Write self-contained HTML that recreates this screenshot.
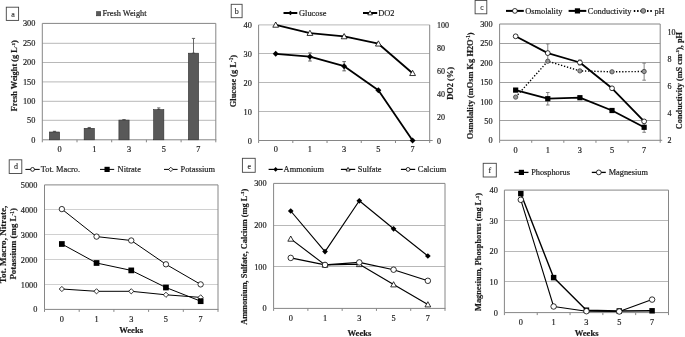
<!DOCTYPE html>
<html><head><meta charset="utf-8"><style>
html,body{margin:0;padding:0;background:#fff;width:685px;height:337px;overflow:hidden}
svg{display:block;will-change:transform}
text{font-family:"Liberation Serif", serif;fill:#1a1a1a;stroke:#1a1a1a;stroke-width:0.18px}
</style></head><body>
<svg width="685" height="337" viewBox="0 0 685 337">
<rect width="685" height="337" fill="#fff"/>
<line x1="42.3" y1="120.3" x2="215.8" y2="120.3" stroke="#b8b8b8" stroke-width="1" />
<line x1="42.3" y1="101.3" x2="215.8" y2="101.3" stroke="#b8b8b8" stroke-width="1" />
<line x1="42.3" y1="81.9" x2="215.8" y2="81.9" stroke="#b8b8b8" stroke-width="1" />
<line x1="42.3" y1="62.5" x2="215.8" y2="62.5" stroke="#b8b8b8" stroke-width="1" />
<line x1="42.3" y1="43.3" x2="215.8" y2="43.3" stroke="#b8b8b8" stroke-width="1" />
<line x1="42.3" y1="23.4" x2="215.8" y2="23.4" stroke="#868686" stroke-width="1" />
<line x1="215.8" y1="23.4" x2="215.8" y2="139.8" stroke="#868686" stroke-width="1" />
<line x1="42.3" y1="23.4" x2="42.3" y2="139.8" stroke="#868686" stroke-width="1" />
<line x1="42.3" y1="139.8" x2="216.3" y2="139.8" stroke="#868686" stroke-width="1" />
<line x1="42.3" y1="139.8" x2="42.3" y2="142.3" stroke="#868686" stroke-width="1" />
<line x1="77" y1="139.8" x2="77" y2="142.3" stroke="#868686" stroke-width="1" />
<line x1="111.7" y1="139.8" x2="111.7" y2="142.3" stroke="#868686" stroke-width="1" />
<line x1="146.4" y1="139.8" x2="146.4" y2="142.3" stroke="#868686" stroke-width="1" />
<line x1="181.1" y1="139.8" x2="181.1" y2="142.3" stroke="#868686" stroke-width="1" />
<line x1="215.8" y1="139.8" x2="215.8" y2="142.3" stroke="#868686" stroke-width="1" />
<line x1="54.5" y1="131.3" x2="54.5" y2="132" stroke="#555" stroke-width="0.9" />
<line x1="52.9" y1="131.3" x2="56.1" y2="131.3" stroke="#555" stroke-width="0.9" />
<line x1="52.9" y1="132" x2="56.1" y2="132" stroke="#555" stroke-width="0.9" />
<rect x="49.4" y="132" width="10.2" height="7.8" fill="#595959" stroke="#2e2e2e" stroke-width="0.6"/>
<line x1="89.25" y1="127.46" x2="89.25" y2="128.32" stroke="#555" stroke-width="0.9" />
<line x1="87.65" y1="127.46" x2="90.85" y2="127.46" stroke="#555" stroke-width="0.9" />
<line x1="87.65" y1="128.32" x2="90.85" y2="128.32" stroke="#555" stroke-width="0.9" />
<rect x="84.15" y="128.32" width="10.2" height="11.48" fill="#595959" stroke="#2e2e2e" stroke-width="0.6"/>
<line x1="124" y1="119.62" x2="124" y2="120.09" stroke="#555" stroke-width="0.9" />
<line x1="122.4" y1="119.62" x2="125.6" y2="119.62" stroke="#555" stroke-width="0.9" />
<line x1="122.4" y1="120.09" x2="125.6" y2="120.09" stroke="#555" stroke-width="0.9" />
<rect x="118.9" y="120.09" width="10.2" height="19.71" fill="#595959" stroke="#2e2e2e" stroke-width="0.6"/>
<line x1="158.75" y1="107.91" x2="158.75" y2="109.69" stroke="#555" stroke-width="0.9" />
<line x1="157.15" y1="107.91" x2="160.35" y2="107.91" stroke="#555" stroke-width="0.9" />
<line x1="157.15" y1="109.69" x2="160.35" y2="109.69" stroke="#555" stroke-width="0.9" />
<rect x="153.65" y="109.69" width="10.2" height="30.11" fill="#595959" stroke="#2e2e2e" stroke-width="0.6"/>
<line x1="193.5" y1="38.42" x2="193.5" y2="53.2" stroke="#555" stroke-width="0.9" />
<line x1="191.9" y1="38.42" x2="195.1" y2="38.42" stroke="#555" stroke-width="0.9" />
<line x1="191.9" y1="53.2" x2="195.1" y2="53.2" stroke="#555" stroke-width="0.9" />
<rect x="188.4" y="53.2" width="10.2" height="86.6" fill="#595959" stroke="#2e2e2e" stroke-width="0.6"/>
<text x="35.4" y="142.8" font-size="8.3" text-anchor="end" font-weight="normal" >0</text>
<text x="35.4" y="123.4" font-size="8.3" text-anchor="end" font-weight="normal" >50</text>
<text x="35.4" y="104" font-size="8.3" text-anchor="end" font-weight="normal" >100</text>
<text x="35.4" y="84.6" font-size="8.3" text-anchor="end" font-weight="normal" >150</text>
<text x="35.4" y="65.2" font-size="8.3" text-anchor="end" font-weight="normal" >200</text>
<text x="35.4" y="45.8" font-size="8.3" text-anchor="end" font-weight="normal" >250</text>
<text x="35.4" y="26.4" font-size="8.3" text-anchor="end" font-weight="normal" >300</text>
<text x="59.65" y="152.4" font-size="8.3" text-anchor="middle" font-weight="normal" >0</text>
<text x="94.35" y="152.4" font-size="8.3" text-anchor="middle" font-weight="normal" >1</text>
<text x="129.05" y="152.4" font-size="8.3" text-anchor="middle" font-weight="normal" >3</text>
<text x="163.75" y="152.4" font-size="8.3" text-anchor="middle" font-weight="normal" >5</text>
<text x="198.45" y="152.4" font-size="8.3" text-anchor="middle" font-weight="normal" >7</text>
<rect x="6.3" y="7.2" width="12.3" height="13.2" fill="#fff" stroke="#444" stroke-width="0.9"/>
<text x="13.15" y="16.6" font-size="8" text-anchor="middle" font-weight="normal" style="stroke-width:0.1px">a</text>
<rect x="96.6" y="11.7" width="4.1" height="4.1" fill="#595959" stroke="#2e2e2e" stroke-width="0.6"/>
<text x="102.4" y="16.1" font-size="8.3" text-anchor="start" font-weight="normal" >Fresh Weight</text>
<text transform="translate(17.4,75.8) rotate(-90)" text-anchor="middle" font-size="8.3" font-weight="bold">Fresh Weight (g L<tspan dy="-2.8" font-size="4.98">-1</tspan><tspan dy="2.8">)</tspan></text>
<line x1="258.6" y1="111.5" x2="429.7" y2="111.5" stroke="#b8b8b8" stroke-width="1" />
<line x1="258.6" y1="82.5" x2="429.7" y2="82.5" stroke="#b8b8b8" stroke-width="1" />
<line x1="258.6" y1="53.5" x2="429.7" y2="53.5" stroke="#b8b8b8" stroke-width="1" />
<line x1="258.6" y1="24.9" x2="429.7" y2="24.9" stroke="#b8b8b8" stroke-width="1" />
<line x1="429.7" y1="24.9" x2="429.7" y2="140.5" stroke="#868686" stroke-width="1" />
<line x1="258.6" y1="24.9" x2="258.6" y2="140.5" stroke="#868686" stroke-width="1" />
<line x1="258.6" y1="140.5" x2="430.2" y2="140.5" stroke="#868686" stroke-width="1" />
<line x1="258.6" y1="140.5" x2="258.6" y2="143" stroke="#868686" stroke-width="1" />
<line x1="292.82" y1="140.5" x2="292.82" y2="143" stroke="#868686" stroke-width="1" />
<line x1="327.04" y1="140.5" x2="327.04" y2="143" stroke="#868686" stroke-width="1" />
<line x1="361.26" y1="140.5" x2="361.26" y2="143" stroke="#868686" stroke-width="1" />
<line x1="395.48" y1="140.5" x2="395.48" y2="143" stroke="#868686" stroke-width="1" />
<line x1="429.7" y1="140.5" x2="429.7" y2="143" stroke="#868686" stroke-width="1" />
<line x1="429.7" y1="140.5" x2="432.7" y2="140.5" stroke="#868686" stroke-width="1" />
<line x1="309.93" y1="52.93" x2="309.93" y2="61.03" stroke="#555" stroke-width="0.9" />
<line x1="308.13" y1="52.93" x2="311.73" y2="52.93" stroke="#555" stroke-width="0.9" />
<line x1="308.13" y1="61.03" x2="311.73" y2="61.03" stroke="#555" stroke-width="0.9" />
<line x1="344.15" y1="61.6" x2="344.15" y2="70.85" stroke="#555" stroke-width="0.9" />
<line x1="342.35" y1="61.6" x2="345.95" y2="61.6" stroke="#555" stroke-width="0.9" />
<line x1="342.35" y1="70.85" x2="345.95" y2="70.85" stroke="#555" stroke-width="0.9" />
<polyline points="275.71,24.9 309.93,33.11 344.15,36.46 378.37,43.74 412.59,73.22" fill="none" stroke="#000" stroke-width="1.8" stroke-linejoin="round"/>
<path d="M275.71 22L278.61 27.22L272.81 27.22Z" fill="#fff" stroke="#000" stroke-width="0.8"/>
<path d="M309.93 30.21L312.83 35.43L307.03 35.43Z" fill="#fff" stroke="#000" stroke-width="0.8"/>
<path d="M344.15 33.56L347.05 38.78L341.25 38.78Z" fill="#fff" stroke="#000" stroke-width="0.8"/>
<path d="M378.37 40.84L381.27 46.06L375.47 46.06Z" fill="#fff" stroke="#000" stroke-width="0.8"/>
<path d="M412.59 70.32L415.49 75.54L409.69 75.54Z" fill="#fff" stroke="#000" stroke-width="0.8"/>
<polyline points="275.71,53.8 309.93,56.69 344.15,66.23 378.37,90.21 412.59,140.5" fill="none" stroke="#000" stroke-width="1.8" stroke-linejoin="round"/>
<path d="M275.71 50.83L278.68 53.8L275.71 56.77L272.74 53.8Z" fill="#000"/>
<path d="M309.93 53.72L312.9 56.69L309.93 59.66L306.96 56.69Z" fill="#000"/>
<path d="M344.15 63.26L347.12 66.23L344.15 69.2L341.18 66.23Z" fill="#000"/>
<path d="M378.37 87.24L381.34 90.21L378.37 93.18L375.4 90.21Z" fill="#000"/>
<path d="M412.59 137.53L415.56 140.5L412.59 143.47L409.62 140.5Z" fill="#000"/>
<text x="251.8" y="143.5" font-size="8.3" text-anchor="end" font-weight="normal" >0</text>
<text x="251.8" y="114.6" font-size="8.3" text-anchor="end" font-weight="normal" >10</text>
<text x="251.8" y="85.7" font-size="8.3" text-anchor="end" font-weight="normal" >20</text>
<text x="251.8" y="56.8" font-size="8.3" text-anchor="end" font-weight="normal" >30</text>
<text x="251.8" y="27.9" font-size="8.3" text-anchor="end" font-weight="normal" >40</text>
<text x="437" y="143.5" font-size="8" text-anchor="start" font-weight="normal" >0</text>
<text x="437" y="120.38" font-size="8" text-anchor="start" font-weight="normal" >20</text>
<text x="437" y="97.26" font-size="8" text-anchor="start" font-weight="normal" >40</text>
<text x="437" y="74.14" font-size="8" text-anchor="start" font-weight="normal" >60</text>
<text x="437" y="51.02" font-size="8" text-anchor="start" font-weight="normal" >80</text>
<text x="437" y="27.9" font-size="8" text-anchor="start" font-weight="normal" >100</text>
<text x="275.71" y="152.2" font-size="8.3" text-anchor="middle" font-weight="normal" >0</text>
<text x="309.93" y="152.2" font-size="8.3" text-anchor="middle" font-weight="normal" >1</text>
<text x="344.15" y="152.2" font-size="8.3" text-anchor="middle" font-weight="normal" >3</text>
<text x="378.37" y="152.2" font-size="8.3" text-anchor="middle" font-weight="normal" >5</text>
<text x="412.59" y="152.2" font-size="8.3" text-anchor="middle" font-weight="normal" >7</text>
<rect x="231.2" y="4.3" width="10.9" height="13.4" fill="#fff" stroke="#444" stroke-width="0.9"/>
<text x="236.65" y="14.4" font-size="8" text-anchor="middle" font-weight="normal" style="stroke-width:0.1px">b</text>
<line x1="283.5" y1="13" x2="297.3" y2="13" stroke="#000" stroke-width="2"/>
<path d="M290.4 10.71L292.69 13L290.4 15.29L288.1 13Z" fill="#000"/>
<text x="299" y="15.9" font-size="8.4" text-anchor="start" font-weight="normal" >Glucose</text>
<line x1="363" y1="13" x2="377.2" y2="13" stroke="#000" stroke-width="2"/>
<path d="M370.1 10.68L372.42 14.86L367.78 14.86Z" fill="#fff" stroke="#000" stroke-width="0.8"/>
<text x="378.2" y="15.9" font-size="8.4" text-anchor="start" font-weight="normal" >DO2</text>
<text transform="translate(236.2,81.1) rotate(-90)" text-anchor="middle" font-size="8.4" font-weight="bold">Glucose (g L<tspan dy="-2.8" font-size="5.04">-1</tspan><tspan dy="2.8">)</tspan></text>
<text transform="translate(452.8,83.4) rotate(-90)" text-anchor="middle" font-size="8.4" font-weight="bold">DO2 (%)</text>
<line x1="499.6" y1="120.5" x2="660.2" y2="120.5" stroke="#a0a0a0" stroke-width="1" />
<line x1="499.6" y1="101.5" x2="660.2" y2="101.5" stroke="#a0a0a0" stroke-width="1" />
<line x1="499.6" y1="82.5" x2="660.2" y2="82.5" stroke="#a0a0a0" stroke-width="1" />
<line x1="499.6" y1="62.5" x2="660.2" y2="62.5" stroke="#a0a0a0" stroke-width="1" />
<line x1="499.6" y1="43.5" x2="660.2" y2="43.5" stroke="#a0a0a0" stroke-width="1" />
<line x1="499.6" y1="24" x2="660.2" y2="24" stroke="#868686" stroke-width="1" />
<line x1="660.2" y1="24" x2="660.2" y2="140.3" stroke="#868686" stroke-width="1" />
<line x1="499.6" y1="24" x2="499.6" y2="140.3" stroke="#868686" stroke-width="1" />
<line x1="499.6" y1="140.3" x2="660.7" y2="140.3" stroke="#868686" stroke-width="1" />
<line x1="499.6" y1="140.3" x2="499.6" y2="142.8" stroke="#868686" stroke-width="1" />
<line x1="531.72" y1="140.3" x2="531.72" y2="142.8" stroke="#868686" stroke-width="1" />
<line x1="563.84" y1="140.3" x2="563.84" y2="142.8" stroke="#868686" stroke-width="1" />
<line x1="595.96" y1="140.3" x2="595.96" y2="142.8" stroke="#868686" stroke-width="1" />
<line x1="628.08" y1="140.3" x2="628.08" y2="142.8" stroke="#868686" stroke-width="1" />
<line x1="660.2" y1="140.3" x2="660.2" y2="142.8" stroke="#868686" stroke-width="1" />
<line x1="660.2" y1="140.3" x2="662.2" y2="140.3" stroke="#868686" stroke-width="1" />
<line x1="547.78" y1="43.9" x2="547.78" y2="62.5" stroke="#777" stroke-width="0.9" />
<line x1="545.98" y1="43.9" x2="549.58" y2="43.9" stroke="#777" stroke-width="0.9" />
<line x1="545.98" y1="62.5" x2="549.58" y2="62.5" stroke="#777" stroke-width="0.9" />
<line x1="547.78" y1="92.5" x2="547.78" y2="105" stroke="#777" stroke-width="0.9" />
<line x1="545.98" y1="92.5" x2="549.58" y2="92.5" stroke="#777" stroke-width="0.9" />
<line x1="545.98" y1="105" x2="549.58" y2="105" stroke="#777" stroke-width="0.9" />
<line x1="579.9" y1="60" x2="579.9" y2="65" stroke="#777" stroke-width="0.9" />
<line x1="578.1" y1="60" x2="581.7" y2="60" stroke="#777" stroke-width="0.9" />
<line x1="578.1" y1="65" x2="581.7" y2="65" stroke="#777" stroke-width="0.9" />
<line x1="644.14" y1="63.1" x2="644.14" y2="80.2" stroke="#777" stroke-width="0.9" />
<line x1="642.34" y1="63.1" x2="645.94" y2="63.1" stroke="#777" stroke-width="0.9" />
<line x1="642.34" y1="80.2" x2="645.94" y2="80.2" stroke="#777" stroke-width="0.9" />
<line x1="644.14" y1="122.5" x2="644.14" y2="132.3" stroke="#777" stroke-width="0.9" />
<line x1="642.34" y1="122.5" x2="645.94" y2="122.5" stroke="#777" stroke-width="0.9" />
<line x1="642.34" y1="132.3" x2="645.94" y2="132.3" stroke="#777" stroke-width="0.9" />
<polyline points="515.66,97.1 547.78,61.2 579.9,70.9 612.02,71.8 644.14,71.5" fill="none" stroke="#000" stroke-width="1.4" stroke-linejoin="round" stroke-dasharray="1.3,1.8"/>
<circle cx="515.66" cy="97.1" r="2.16" fill="#9a9a9a" stroke="#3a3a3a" stroke-width="0.8"/>
<circle cx="547.78" cy="61.2" r="2.16" fill="#9a9a9a" stroke="#3a3a3a" stroke-width="0.8"/>
<circle cx="579.9" cy="70.9" r="2.16" fill="#9a9a9a" stroke="#3a3a3a" stroke-width="0.8"/>
<circle cx="612.02" cy="71.8" r="2.16" fill="#9a9a9a" stroke="#3a3a3a" stroke-width="0.8"/>
<circle cx="644.14" cy="71.5" r="2.16" fill="#9a9a9a" stroke="#3a3a3a" stroke-width="0.8"/>
<polyline points="515.66,36.3 547.78,53.1 579.9,62.5 612.02,88.3 644.14,121.4" fill="none" stroke="#000" stroke-width="1.8" stroke-linejoin="round"/>
<circle cx="515.66" cy="36.3" r="2.4" fill="#fff" stroke="#000" stroke-width="0.8"/>
<circle cx="547.78" cy="53.1" r="2.4" fill="#fff" stroke="#000" stroke-width="0.8"/>
<circle cx="579.9" cy="62.5" r="2.4" fill="#fff" stroke="#000" stroke-width="0.8"/>
<circle cx="612.02" cy="88.3" r="2.4" fill="#fff" stroke="#000" stroke-width="0.8"/>
<circle cx="644.14" cy="121.4" r="2.4" fill="#fff" stroke="#000" stroke-width="0.8"/>
<polyline points="515.66,90.1 547.78,98.7 579.9,97.7 612.02,110.5 644.14,127.3" fill="none" stroke="#000" stroke-width="1.8" stroke-linejoin="round"/>
<rect x="513.06" y="87.5" width="5.2" height="5.2" fill="#000"/>
<rect x="545.18" y="96.1" width="5.2" height="5.2" fill="#000"/>
<rect x="577.3" y="95.1" width="5.2" height="5.2" fill="#000"/>
<rect x="609.42" y="107.9" width="5.2" height="5.2" fill="#000"/>
<rect x="641.54" y="124.7" width="5.2" height="5.2" fill="#000"/>
<text x="492.6" y="143.3" font-size="8.3" text-anchor="end" font-weight="normal" >0</text>
<text x="492.6" y="123.92" font-size="8.3" text-anchor="end" font-weight="normal" >50</text>
<text x="492.6" y="104.53" font-size="8.3" text-anchor="end" font-weight="normal" >100</text>
<text x="492.6" y="85.15" font-size="8.3" text-anchor="end" font-weight="normal" >150</text>
<text x="492.6" y="65.77" font-size="8.3" text-anchor="end" font-weight="normal" >200</text>
<text x="492.6" y="46.38" font-size="8.3" text-anchor="end" font-weight="normal" >250</text>
<text x="492.6" y="27" font-size="8.3" text-anchor="end" font-weight="normal" >300</text>
<text x="667.5" y="142.8" font-size="8" text-anchor="start" font-weight="normal" >2</text>
<text x="667.5" y="115.8" font-size="8" text-anchor="start" font-weight="normal" >4</text>
<text x="667.5" y="88.6" font-size="8" text-anchor="start" font-weight="normal" >6</text>
<text x="667.5" y="61.8" font-size="8" text-anchor="start" font-weight="normal" >8</text>
<text x="667.5" y="34.7" font-size="8" text-anchor="start" font-weight="normal" >10</text>
<text x="515.66" y="153.2" font-size="8.3" text-anchor="middle" font-weight="normal" >0</text>
<text x="547.78" y="153.2" font-size="8.3" text-anchor="middle" font-weight="normal" >1</text>
<text x="579.9" y="153.2" font-size="8.3" text-anchor="middle" font-weight="normal" >3</text>
<text x="612.02" y="153.2" font-size="8.3" text-anchor="middle" font-weight="normal" >5</text>
<text x="644.14" y="153.2" font-size="8.3" text-anchor="middle" font-weight="normal" >7</text>
<rect x="475.1" y="0.4" width="11.7" height="13.4" fill="#fff" stroke="#444" stroke-width="0.9"/>
<text x="481.85" y="10.3" font-size="7.5" text-anchor="middle" font-weight="normal" style="stroke-width:0.1px">c</text>
<line x1="506" y1="10.9" x2="523.8" y2="10.9" stroke="#000" stroke-width="2"/>
<circle cx="514.9" cy="10.9" r="2.4" fill="#fff" stroke="#000" stroke-width="0.8"/>
<text x="525.2" y="13.8" font-size="8.4" text-anchor="start" font-weight="normal" >Osmolality</text>
<line x1="568.6" y1="10.9" x2="586.3" y2="10.9" stroke="#000" stroke-width="2"/>
<rect x="574.85" y="8.3" width="5.2" height="5.2" fill="#000"/>
<text x="587.8" y="13.8" font-size="8.4" text-anchor="start" font-weight="normal" >Conductivity</text>
<line x1="633.8" y1="10.9" x2="652.7" y2="10.9" stroke="#000" stroke-width="2" stroke-dasharray="1.5,1.8"/>
<circle cx="643.25" cy="10.9" r="2.4" fill="#9a9a9a" stroke="#3a3a3a" stroke-width="0.8"/>
<text x="654.4" y="13.8" font-size="8.4" text-anchor="start" font-weight="normal" >pH</text>
<text transform="translate(473.2,85.8) rotate(-90)" text-anchor="middle" font-size="8.4" font-weight="bold">Osmolality (mOsm Kg H2O<tspan dy="-2.8" font-size="5.04">-1</tspan><tspan dy="2.8">)</tspan></text>
<text transform="translate(682,80.6) rotate(-90)" text-anchor="middle" font-size="8.3" font-weight="bold">Conductivity (mS cm<tspan dy="-2.8" font-size="4.98">-1</tspan><tspan dy="2.8">), pH</tspan></text>
<line x1="44.5" y1="284.5" x2="218" y2="284.5" stroke="#d0d0d0" stroke-width="1" />
<line x1="44.5" y1="259.5" x2="218" y2="259.5" stroke="#d0d0d0" stroke-width="1" />
<line x1="44.5" y1="234.5" x2="218" y2="234.5" stroke="#d0d0d0" stroke-width="1" />
<line x1="44.5" y1="209.5" x2="218" y2="209.5" stroke="#d0d0d0" stroke-width="1" />
<line x1="44.5" y1="184.9" x2="218" y2="184.9" stroke="#868686" stroke-width="1" />
<line x1="218" y1="184.9" x2="218" y2="309.4" stroke="#868686" stroke-width="1" />
<line x1="44.5" y1="184.9" x2="44.5" y2="309.4" stroke="#868686" stroke-width="1" />
<line x1="44.5" y1="309.4" x2="218.5" y2="309.4" stroke="#868686" stroke-width="1" />
<line x1="44.5" y1="309.4" x2="44.5" y2="311.9" stroke="#868686" stroke-width="1" />
<line x1="79.2" y1="309.4" x2="79.2" y2="311.9" stroke="#868686" stroke-width="1" />
<line x1="113.9" y1="309.4" x2="113.9" y2="311.9" stroke="#868686" stroke-width="1" />
<line x1="148.6" y1="309.4" x2="148.6" y2="311.9" stroke="#868686" stroke-width="1" />
<line x1="183.3" y1="309.4" x2="183.3" y2="311.9" stroke="#868686" stroke-width="1" />
<line x1="218" y1="309.4" x2="218" y2="311.9" stroke="#868686" stroke-width="1" />
<polyline points="61.85,289 96.55,291.3 131.25,291.3 165.95,294.8 200.65,297.4" fill="none" stroke="#000" stroke-width="1" stroke-linejoin="round"/>
<path d="M61.85 286.4L64.45 289L61.85 291.6L59.25 289Z" fill="#fff" stroke="#000" stroke-width="0.8"/>
<path d="M96.55 288.7L99.15 291.3L96.55 293.9L93.95 291.3Z" fill="#fff" stroke="#000" stroke-width="0.8"/>
<path d="M131.25 288.7L133.85 291.3L131.25 293.9L128.65 291.3Z" fill="#fff" stroke="#000" stroke-width="0.8"/>
<path d="M165.95 292.2L168.55 294.8L165.95 297.4L163.35 294.8Z" fill="#fff" stroke="#000" stroke-width="0.8"/>
<path d="M200.65 294.8L203.25 297.4L200.65 300L198.05 297.4Z" fill="#fff" stroke="#000" stroke-width="0.8"/>
<polyline points="61.85,244 96.55,263 131.25,270.4 165.95,287.5 200.65,301.2" fill="none" stroke="#000" stroke-width="1" stroke-linejoin="round"/>
<rect x="58.99" y="241.14" width="5.72" height="5.72" fill="#000"/>
<rect x="93.69" y="260.14" width="5.72" height="5.72" fill="#000"/>
<rect x="128.39" y="267.54" width="5.72" height="5.72" fill="#000"/>
<rect x="163.09" y="284.64" width="5.72" height="5.72" fill="#000"/>
<rect x="197.79" y="298.34" width="5.72" height="5.72" fill="#000"/>
<polyline points="61.85,209.1 96.55,236.6 131.25,240.5 165.95,264.3 200.65,284.4" fill="none" stroke="#000" stroke-width="1" stroke-linejoin="round"/>
<circle cx="61.85" cy="209.1" r="2.69" fill="#fff" stroke="#000" stroke-width="0.8"/>
<circle cx="96.55" cy="236.6" r="2.69" fill="#fff" stroke="#000" stroke-width="0.8"/>
<circle cx="131.25" cy="240.5" r="2.69" fill="#fff" stroke="#000" stroke-width="0.8"/>
<circle cx="165.95" cy="264.3" r="2.69" fill="#fff" stroke="#000" stroke-width="0.8"/>
<circle cx="200.65" cy="284.4" r="2.69" fill="#fff" stroke="#000" stroke-width="0.8"/>
<text x="37.4" y="312.4" font-size="8.3" text-anchor="end" font-weight="normal" >0</text>
<text x="37.4" y="287.5" font-size="8.3" text-anchor="end" font-weight="normal" >1000</text>
<text x="37.4" y="262.6" font-size="8.3" text-anchor="end" font-weight="normal" >2000</text>
<text x="37.4" y="237.7" font-size="8.3" text-anchor="end" font-weight="normal" >3000</text>
<text x="37.4" y="212.8" font-size="8.3" text-anchor="end" font-weight="normal" >4000</text>
<text x="37.4" y="187.9" font-size="8.3" text-anchor="end" font-weight="normal" >5000</text>
<text x="61.85" y="322.1" font-size="8.3" text-anchor="middle" font-weight="normal" >0</text>
<text x="96.55" y="322.1" font-size="8.3" text-anchor="middle" font-weight="normal" >1</text>
<text x="131.25" y="322.1" font-size="8.3" text-anchor="middle" font-weight="normal" >3</text>
<text x="165.95" y="322.1" font-size="8.3" text-anchor="middle" font-weight="normal" >5</text>
<text x="200.65" y="322.1" font-size="8.3" text-anchor="middle" font-weight="normal" >7</text>
<text x="131.1" y="333.1" font-size="8.6" text-anchor="middle" font-weight="bold" >Weeks</text>
<rect x="9.2" y="159.8" width="12.6" height="13.7" fill="#fff" stroke="#444" stroke-width="0.9"/>
<text x="16.1" y="169.25" font-size="8" text-anchor="middle" font-weight="normal" style="stroke-width:0.1px">d</text>
<line x1="25.4" y1="169.4" x2="39.7" y2="169.4" stroke="#000" stroke-width="1"/>
<circle cx="32.55" cy="169.4" r="1.92" fill="#fff" stroke="#000" stroke-width="0.8"/>
<text x="40.8" y="172.3" font-size="8.4" text-anchor="start" font-weight="normal" >Tot. Macro.</text>
<line x1="100" y1="169.4" x2="114.2" y2="169.4" stroke="#000" stroke-width="1"/>
<rect x="104.5" y="166.8" width="5.2" height="5.2" fill="#000"/>
<text x="117.6" y="172.3" font-size="8.4" text-anchor="start" font-weight="normal" >Nitrate</text>
<line x1="164" y1="169.4" x2="177.6" y2="169.4" stroke="#000" stroke-width="1"/>
<path d="M170.8 167.19L173.01 169.4L170.8 171.61L168.59 169.4Z" fill="#fff" stroke="#000" stroke-width="0.8"/>
<text x="180.5" y="172.3" font-size="8.4" text-anchor="start" font-weight="normal" >Potassium</text>
<text transform="translate(5.6,244.5) rotate(-90)" text-anchor="middle" font-size="9.1" font-weight="bold">Tot. Macro, Nitrate,</text>
<text transform="translate(16.4,243.8) rotate(-90)" text-anchor="middle" font-size="8.9" font-weight="bold">Potassium (mg L<tspan dy="-2.8" font-size="5.34">-1</tspan><tspan dy="2.8">)</tspan></text>
<line x1="273.6" y1="266.5" x2="445" y2="266.5" stroke="#b8b8b8" stroke-width="1" />
<line x1="273.6" y1="225.5" x2="445" y2="225.5" stroke="#b8b8b8" stroke-width="1" />
<line x1="273.6" y1="183.4" x2="445" y2="183.4" stroke="#868686" stroke-width="1" />
<line x1="445" y1="183.4" x2="445" y2="308.4" stroke="#868686" stroke-width="1" />
<line x1="273.6" y1="183.4" x2="273.6" y2="308.4" stroke="#868686" stroke-width="1" />
<line x1="273.6" y1="308.4" x2="445.5" y2="308.4" stroke="#868686" stroke-width="1" />
<line x1="273.6" y1="308.4" x2="273.6" y2="310.9" stroke="#868686" stroke-width="1" />
<line x1="307.88" y1="308.4" x2="307.88" y2="310.9" stroke="#868686" stroke-width="1" />
<line x1="342.16" y1="308.4" x2="342.16" y2="310.9" stroke="#868686" stroke-width="1" />
<line x1="376.44" y1="308.4" x2="376.44" y2="310.9" stroke="#868686" stroke-width="1" />
<line x1="410.72" y1="308.4" x2="410.72" y2="310.9" stroke="#868686" stroke-width="1" />
<line x1="445" y1="308.4" x2="445" y2="310.9" stroke="#868686" stroke-width="1" />
<polyline points="290.74,238.9 325.02,264.9 359.3,264.3 393.58,284.6 427.86,304.6" fill="none" stroke="#000" stroke-width="1.15" stroke-linejoin="round"/>
<path d="M290.74 236L293.64 241.22L287.84 241.22Z" fill="#fff" stroke="#000" stroke-width="0.8"/>
<path d="M325.02 262L327.92 267.22L322.12 267.22Z" fill="#fff" stroke="#000" stroke-width="0.8"/>
<path d="M359.3 261.4L362.2 266.62L356.4 266.62Z" fill="#fff" stroke="#000" stroke-width="0.8"/>
<path d="M393.58 281.7L396.48 286.92L390.68 286.92Z" fill="#fff" stroke="#000" stroke-width="0.8"/>
<path d="M427.86 301.7L430.76 306.92L424.96 306.92Z" fill="#fff" stroke="#000" stroke-width="0.8"/>
<polyline points="290.74,257.9 325.02,264.9 359.3,262.4 393.58,269.7 427.86,280.8" fill="none" stroke="#000" stroke-width="1.15" stroke-linejoin="round"/>
<circle cx="290.74" cy="257.9" r="2.76" fill="#fff" stroke="#000" stroke-width="0.8"/>
<circle cx="325.02" cy="264.9" r="2.76" fill="#fff" stroke="#000" stroke-width="0.8"/>
<circle cx="359.3" cy="262.4" r="2.76" fill="#fff" stroke="#000" stroke-width="0.8"/>
<circle cx="393.58" cy="269.7" r="2.76" fill="#fff" stroke="#000" stroke-width="0.8"/>
<circle cx="427.86" cy="280.8" r="2.76" fill="#fff" stroke="#000" stroke-width="0.8"/>
<polyline points="290.74,211 325.02,251.6 359.3,200.8 393.58,228.8 427.86,256" fill="none" stroke="#000" stroke-width="1.15" stroke-linejoin="round"/>
<path d="M290.74 208.16L293.57 211L290.74 213.84L287.91 211Z" fill="#000"/>
<path d="M325.02 248.76L327.85 251.6L325.02 254.44L322.19 251.6Z" fill="#000"/>
<path d="M359.3 197.97L362.13 200.8L359.3 203.64L356.47 200.8Z" fill="#000"/>
<path d="M393.58 225.97L396.41 228.8L393.58 231.64L390.75 228.8Z" fill="#000"/>
<path d="M427.86 253.16L430.69 256L427.86 258.83L425.03 256Z" fill="#000"/>
<text x="266.6" y="311.4" font-size="8.3" text-anchor="end" font-weight="normal" >0</text>
<text x="266.6" y="269.73" font-size="8.3" text-anchor="end" font-weight="normal" >100</text>
<text x="266.6" y="228.07" font-size="8.3" text-anchor="end" font-weight="normal" >200</text>
<text x="266.6" y="186.4" font-size="8.3" text-anchor="end" font-weight="normal" >300</text>
<text x="290.74" y="321.1" font-size="8.3" text-anchor="middle" font-weight="normal" >0</text>
<text x="325.02" y="321.1" font-size="8.3" text-anchor="middle" font-weight="normal" >1</text>
<text x="359.3" y="321.1" font-size="8.3" text-anchor="middle" font-weight="normal" >3</text>
<text x="393.58" y="321.1" font-size="8.3" text-anchor="middle" font-weight="normal" >5</text>
<text x="427.86" y="321.1" font-size="8.3" text-anchor="middle" font-weight="normal" >7</text>
<text x="359.4" y="336" font-size="8.6" text-anchor="middle" font-weight="bold" >Weeks</text>
<rect x="242.4" y="158.3" width="12.8" height="14" fill="#fff" stroke="#444" stroke-width="0.9"/>
<text x="249.4" y="168.7" font-size="8" text-anchor="middle" font-weight="normal" style="stroke-width:0.1px">e</text>
<line x1="268.6" y1="169.4" x2="282.7" y2="169.4" stroke="#000" stroke-width="1.2"/>
<path d="M275.65 167.11L277.94 169.4L275.65 171.69L273.35 169.4Z" fill="#000"/>
<text x="283.6" y="172.3" font-size="8.4" text-anchor="start" font-weight="normal" >Ammonium</text>
<line x1="340.9" y1="169.4" x2="355.2" y2="169.4" stroke="#000" stroke-width="1.2"/>
<path d="M348.05 167.37L350.08 171.02L346.02 171.02Z" fill="#fff" stroke="#000" stroke-width="0.8"/>
<text x="357.8" y="172.3" font-size="8.4" text-anchor="start" font-weight="normal" >Sulfate</text>
<line x1="400.9" y1="169.4" x2="415.2" y2="169.4" stroke="#000" stroke-width="1.2"/>
<circle cx="408.05" cy="169.4" r="1.92" fill="#fff" stroke="#000" stroke-width="0.8"/>
<text x="417.8" y="172.3" font-size="8.4" text-anchor="start" font-weight="normal" >Calcium</text>
<text transform="translate(246.8,256.8) rotate(-90)" text-anchor="middle" font-size="8.3" font-weight="bold">Ammonium, Sulfate, Calcium (mg L<tspan dy="-2.8" font-size="4.98">-1</tspan><tspan dy="2.8">)</tspan></text>
<line x1="504.4" y1="281.5" x2="668.5" y2="281.5" stroke="#b8b8b8" stroke-width="1" />
<line x1="504.4" y1="251.5" x2="668.5" y2="251.5" stroke="#b8b8b8" stroke-width="1" />
<line x1="504.4" y1="220.5" x2="668.5" y2="220.5" stroke="#b8b8b8" stroke-width="1" />
<line x1="504.4" y1="190.1" x2="668.5" y2="190.1" stroke="#868686" stroke-width="1" />
<line x1="668.5" y1="190.1" x2="668.5" y2="312.6" stroke="#868686" stroke-width="1" />
<line x1="504.4" y1="190.1" x2="504.4" y2="312.6" stroke="#868686" stroke-width="1" />
<line x1="504.4" y1="312.6" x2="669" y2="312.6" stroke="#868686" stroke-width="1" />
<line x1="504.4" y1="312.6" x2="504.4" y2="315.1" stroke="#868686" stroke-width="1" />
<line x1="537.22" y1="312.6" x2="537.22" y2="315.1" stroke="#868686" stroke-width="1" />
<line x1="570.04" y1="312.6" x2="570.04" y2="315.1" stroke="#868686" stroke-width="1" />
<line x1="602.86" y1="312.6" x2="602.86" y2="315.1" stroke="#868686" stroke-width="1" />
<line x1="635.68" y1="312.6" x2="635.68" y2="315.1" stroke="#868686" stroke-width="1" />
<line x1="668.5" y1="312.6" x2="668.5" y2="315.1" stroke="#868686" stroke-width="1" />
<polyline points="520.81,193.6 553.63,277.6 586.45,310.2 619.27,311 652.09,310.8" fill="none" stroke="#000" stroke-width="1.4" stroke-linejoin="round"/>
<rect x="518.08" y="190.87" width="5.46" height="5.46" fill="#000"/>
<rect x="550.9" y="274.87" width="5.46" height="5.46" fill="#000"/>
<rect x="583.72" y="307.47" width="5.46" height="5.46" fill="#000"/>
<rect x="616.54" y="308.27" width="5.46" height="5.46" fill="#000"/>
<rect x="649.36" y="308.07" width="5.46" height="5.46" fill="#000"/>
<polyline points="520.81,199.8 553.63,306.5 586.45,311.2 619.27,311.5 652.09,299.6" fill="none" stroke="#000" stroke-width="1.1" stroke-linejoin="round"/>
<circle cx="520.81" cy="199.8" r="2.76" fill="#fff" stroke="#000" stroke-width="0.8"/>
<circle cx="553.63" cy="306.5" r="2.76" fill="#fff" stroke="#000" stroke-width="0.8"/>
<circle cx="586.45" cy="311.2" r="2.76" fill="#fff" stroke="#000" stroke-width="0.8"/>
<circle cx="619.27" cy="311.5" r="2.76" fill="#fff" stroke="#000" stroke-width="0.8"/>
<circle cx="652.09" cy="299.6" r="2.76" fill="#fff" stroke="#000" stroke-width="0.8"/>
<text x="497.8" y="315.6" font-size="8.3" text-anchor="end" font-weight="normal" >0</text>
<text x="497.8" y="284.98" font-size="8.3" text-anchor="end" font-weight="normal" >10</text>
<text x="497.8" y="254.35" font-size="8.3" text-anchor="end" font-weight="normal" >20</text>
<text x="497.8" y="223.72" font-size="8.3" text-anchor="end" font-weight="normal" >30</text>
<text x="497.8" y="193.1" font-size="8.3" text-anchor="end" font-weight="normal" >40</text>
<text x="520.81" y="324.9" font-size="8.3" text-anchor="middle" font-weight="normal" >0</text>
<text x="553.63" y="324.9" font-size="8.3" text-anchor="middle" font-weight="normal" >1</text>
<text x="586.45" y="324.9" font-size="8.3" text-anchor="middle" font-weight="normal" >3</text>
<text x="619.27" y="324.9" font-size="8.3" text-anchor="middle" font-weight="normal" >5</text>
<text x="652.09" y="324.9" font-size="8.3" text-anchor="middle" font-weight="normal" >7</text>
<text x="586.6" y="336" font-size="8.6" text-anchor="middle" font-weight="bold" >Weeks</text>
<rect x="483.2" y="163.3" width="13.1" height="13.7" fill="#fff" stroke="#444" stroke-width="0.9"/>
<text x="489.75" y="173.15" font-size="8" text-anchor="middle" font-weight="normal" style="stroke-width:0.1px">f</text>
<line x1="514.3" y1="172.4" x2="528.5" y2="172.4" stroke="#000" stroke-width="1.3"/>
<rect x="518.8" y="169.8" width="5.2" height="5.2" fill="#000"/>
<text x="531.2" y="175.3" font-size="8.3" text-anchor="start" font-weight="normal" >Phosphorus</text>
<line x1="591.8" y1="172.4" x2="605.8" y2="172.4" stroke="#000" stroke-width="1.3"/>
<circle cx="598.8" cy="172.4" r="2.4" fill="#fff" stroke="#000" stroke-width="0.8"/>
<text x="608.7" y="175.3" font-size="8.3" text-anchor="start" font-weight="normal" >Magnesium</text>
<text transform="translate(481.4,251.9) rotate(-90)" text-anchor="middle" font-size="8.3" font-weight="bold">Magnesium, Phosphorus (mg L<tspan dy="-2.8" font-size="4.98">-1</tspan><tspan dy="2.8">)</tspan></text>
</svg>
</body></html>
